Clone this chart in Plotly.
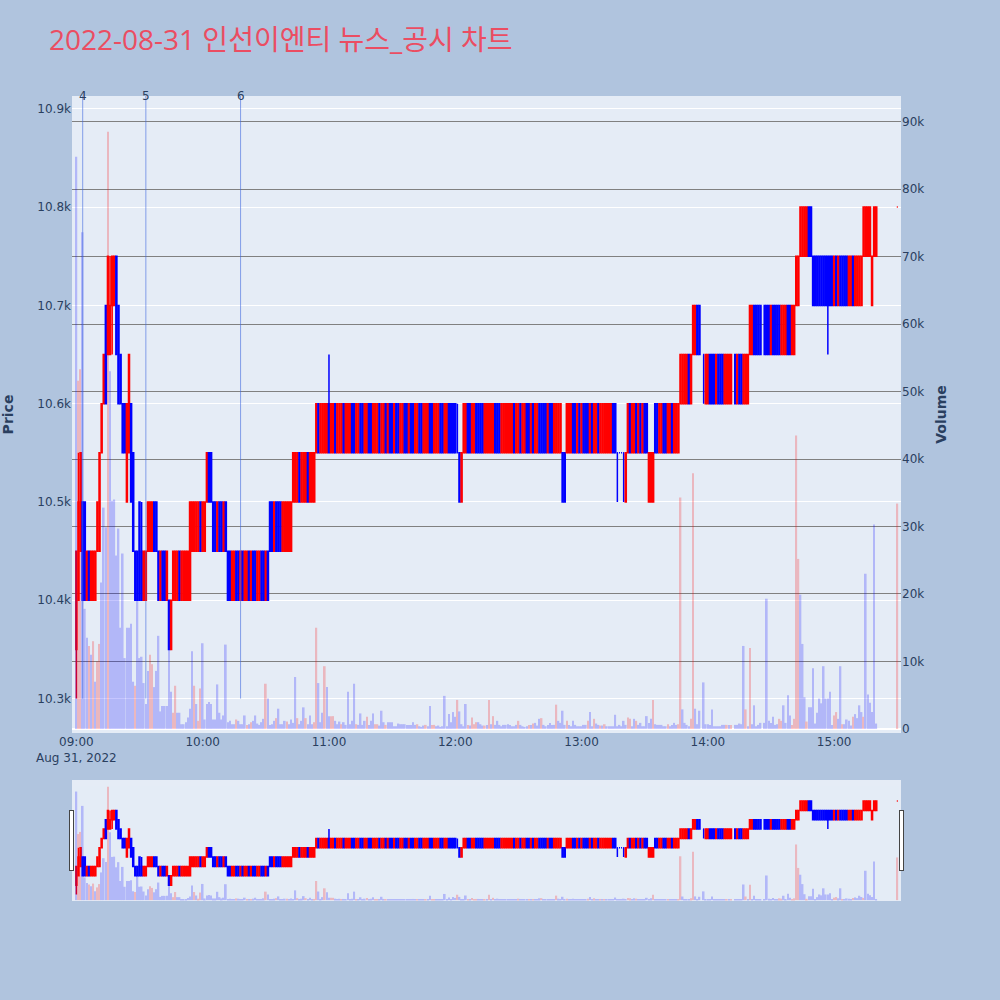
import pandas as pd
import plotly.graph_objects as go
from plotly.subplots import make_subplots

N = None
start_time = "2022-08-31 09:00"
n_minutes = 391

open_ = [
    10350, 10400, 10450, 10500, 10500, 10400, 10450, 10400, 10400, 10400,
    10450, 10450, 10550, 10600, 10700, 10650, 10650, 10700, 10700, 10750,
    10700, 10650, 10600, 10600, 10500, 10550, 10600, 10550, 10450, 10450,
    10500, 10450, 10400, 10400, 10450, 10450, 10450, 10500, 10500, 10450,
    10400, 10450, 10450, 10400, 10400, 10350, 10400, 10400, 10400, 10450,
    10400, 10400, 10400, 10400, 10400, 10450, 10450, 10450, 10450, 10500,
    10450, 10450, 10500, 10550, 10550, 10500, 10500, 10450, 10500, 10500,
    10450, 10500, 10450, 10450, 10400, 10400, 10450, 10450, 10400, 10450,
    10400, 10400, 10450, 10400, 10450, 10450, 10400, 10400, 10450, 10450,
    10400, 10450, 10500, 10500, 10450, 10500, 10500, 10500, 10450, 10450,
    10450, 10450, 10450, 10500, 10500, 10500, 10550, 10500, 10500, 10500,
    10550, 10500, 10500, 10500, 10550, 10600, 10550, 10550, 10550, 10550,
    10600, 10550, 10550, 10600, 10550, 10550, 10550, 10600, 10550, 10550,
    10550, 10600, 10600, 10550, 10550, 10600, 10600, 10550, 10550, 10600,
    10600, 10550, 10550, 10550, 10600, 10550, 10550, 10600, 10550, 10600,
    10600, 10550, 10600, 10600, 10550, 10550, 10600, 10600, 10550, 10600,
    10600, 10550, 10550, 10600, 10600, 10550, 10550, 10550, 10600, 10600,
    10550, 10550, 10550, 10600, 10600, 10550, 10550, 10600, 10600, 10600,
    10600, 10550, 10550, 10500, 10550, 10550, 10600, 10600, 10550, 10550,
    10600, 10600, 10600, 10600, 10550, 10550, 10550, 10550, 10550, 10600,
    10600, 10600, 10550, 10550, 10550, 10550, 10550, 10550, 10600, 10550,
    10550, 10600, 10550, 10550, 10600, 10600, 10550, 10600, 10550, 10550,
    10600, 10600, 10600, 10600, 10550, 10600, 10600, 10550, 10550, 10550,
    10550, 10550, 10550, 10550, 10550, 10550, 10600, 10600, 10550, 10600,
    10550, 10600, 10600, 10600, 10550, 10600, 10550, 10550, 10600, 10550,
    10550, 10550, 10550, 10550, 10550, 10600, 10600, 10550, 10550, 10550,
    10550, 10500, 10550, 10600, 10550, 10550, 10600, 10550, 10600, 10550,
    10600, 10600, 10500, 10500, 10500, 10600, 10600, 10550, 10550, 10600,
    10600, 10550, 10550, 10600, 10550, 10550, 10550, 10600, 10600, 10600,
    10600, 10650, 10600, 10650, 10650, 10700, 10700, N, 10650, 10600,
    10600, 10650, 10650, 10650, 10600, 10650, 10650, 10650, 10600, 10600,
    10600, 10600, N, 10650, 10600, 10650, 10650, 10600, 10600, 10600,
    10650, 10650, 10700, 10700, 10700, 10700, N, 10700, 10700, 10700,
    10650, 10700, 10700, 10700, 10700, 10650, 10650, 10650, 10700, 10700,
    10650, 10650, 10700, 10700, 10750, 10750, 10750, 10750, 10800, 10800,
    10750, 10750, 10750, 10750, 10750, 10750, 10750, 10750, 10750, 10750,
    10700, 10750, 10700, 10750, 10750, 10750, 10750, 10700, 10700, 10750,
    10700, 10700, 10700, 10700, 10750, 10750, 10750, 10750, 10700, 10750,
    10750, N, N, N, N, N, N, N, N, N,
    10800,
]

close_ = [
    10450, 10500, 10550, 10400, 10400, 10450, 10400, 10450, 10450, 10450,
    10500, 10550, 10600, 10650, 10600, 10750, 10700, 10750, 10750, 10650,
    10600, 10600, 10550, 10550, 10600, 10650, 10500, 10450, 10400, 10400,
    10400, 10400, 10450, 10450, 10500, 10500, 10500, 10450, 10450, 10400,
    10450, 10400, 10400, 10450, 10350, 10400, 10450, 10450, 10450, 10400,
    10450, 10450, 10450, 10450, 10500, 10500, 10500, 10500, 10500, 10450,
    10500, 10500, 10550, 10500, 10500, 10450, 10450, 10500, 10450, 10450,
    10500, 10450, 10400, 10400, 10450, 10450, 10400, 10400, 10450, 10400,
    10450, 10450, 10400, 10450, 10400, 10400, 10450, 10450, 10400, 10400,
    10450, 10400, 10450, 10450, 10500, 10450, 10450, 10450, 10500, 10500,
    10500, 10500, 10500, 10550, 10550, 10550, 10500, 10550, 10550, 10550,
    10500, 10550, 10550, 10550, 10600, 10550, 10600, 10600, 10600, 10600,
    10550, 10600, 10600, 10550, 10600, 10600, 10600, 10550, 10600, 10600,
    10600, 10550, 10550, 10600, 10600, 10550, 10550, 10600, 10600, 10550,
    10550, 10600, 10600, 10600, 10550, 10600, 10600, 10550, 10600, 10550,
    10550, 10600, 10550, 10550, 10600, 10600, 10550, 10550, 10600, 10550,
    10550, 10600, 10600, 10550, 10550, 10600, 10600, 10600, 10550, 10550,
    10600, 10600, 10600, 10550, 10550, 10600, 10600, 10550, 10550, 10550,
    10550, 10550, 10500, 10550, 10600, 10600, 10550, 10550, 10600, 10600,
    10550, 10550, 10550, 10550, 10600, 10600, 10600, 10600, 10600, 10550,
    10550, 10550, 10600, 10600, 10600, 10600, 10600, 10600, 10550, 10600,
    10600, 10550, 10600, 10600, 10550, 10550, 10600, 10550, 10600, 10600,
    10550, 10550, 10550, 10550, 10600, 10550, 10550, 10600, 10600, 10600,
    10600, 10500, 10500, 10600, 10600, 10600, 10550, 10550, 10600, 10550,
    10600, 10550, 10550, 10550, 10600, 10550, 10600, 10600, 10550, 10600,
    10600, 10600, 10600, 10600, 10600, 10550, 10550, 10550, 10550, 10550,
    10550, 10550, 10600, 10550, 10600, 10600, 10550, 10600, 10550, 10600,
    10550, 10550, 10550, 10550, 10550, 10550, 10550, 10600, 10600, 10550,
    10550, 10600, 10600, 10550, 10600, 10600, 10600, 10650, 10650, 10650,
    10650, 10600, 10650, 10700, 10700, 10650, 10650, N, 10650, 10650,
    10650, 10600, 10600, 10600, 10650, 10600, 10600, 10600, 10650, 10650,
    10650, 10650, N, 10600, 10650, 10600, 10600, 10650, 10650, 10650,
    10700, 10700, 10650, 10650, 10650, 10650, N, 10650, 10650, 10650,
    10700, 10650, 10650, 10650, 10650, 10700, 10700, 10700, 10650, 10650,
    10700, 10700, 10750, 10750, 10800, 10800, 10800, 10800, 10750, 10750,
    10700, 10700, 10700, 10700, 10700, 10700, 10700, 10700, 10700, 10700,
    10750, 10700, 10750, 10700, 10700, 10700, 10700, 10750, 10750, 10700,
    10750, 10750, 10750, 10750, 10800, 10800, 10800, 10800, 10750, 10800,
    10800, N, N, N, N, N, N, N, N, N,
    10800,
]

high_ = [
    10450, 10550, 10550, 10500, 10500, 10450, 10450, 10450, 10450, 10450,
    10500, 10550, 10600, 10650, 10700, 10750, 10750, 10750, 10750, 10750,
    10700, 10650, 10600, 10600, 10600, 10650, 10600, 10550, 10450, 10450,
    10500, 10500, 10450, 10450, 10500, 10500, 10500, 10500, 10500, 10450,
    10450, 10450, 10450, 10450, 10400, 10400, 10450, 10450, 10450, 10450,
    10450, 10450, 10450, 10450, 10500, 10500, 10500, 10500, 10500, 10500,
    10500, 10500, 10550, 10550, 10550, 10500, 10500, 10500, 10500, 10500,
    10500, 10500, 10450, 10450, 10450, 10450, 10450, 10450, 10450, 10450,
    10450, 10450, 10450, 10450, 10450, 10450, 10450, 10450, 10450, 10450,
    10450, 10450, 10500, 10500, 10500, 10500, 10500, 10500, 10500, 10500,
    10500, 10500, 10500, 10550, 10550, 10550, 10550, 10550, 10550, 10550,
    10550, 10550, 10550, 10550, 10600, 10600, 10600, 10600, 10600, 10600,
    10650, 10600, 10600, 10600, 10600, 10600, 10600, 10600, 10600, 10600,
    10600, 10600, 10600, 10600, 10600, 10600, 10600, 10600, 10600, 10600,
    10600, 10600, 10600, 10600, 10600, 10600, 10600, 10600, 10600, 10600,
    10600, 10600, 10600, 10600, 10600, 10600, 10600, 10600, 10600, 10600,
    10600, 10600, 10600, 10600, 10600, 10600, 10600, 10600, 10600, 10600,
    10600, 10600, 10600, 10600, 10600, 10600, 10600, 10600, 10600, 10600,
    10600, 10600, 10550, 10550, 10600, 10600, 10600, 10600, 10600, 10600,
    10600, 10600, 10600, 10600, 10600, 10600, 10600, 10600, 10600, 10600,
    10600, 10600, 10600, 10600, 10600, 10600, 10600, 10600, 10600, 10600,
    10600, 10600, 10600, 10600, 10600, 10600, 10600, 10600, 10600, 10600,
    10600, 10600, 10600, 10600, 10600, 10600, 10600, 10600, 10600, 10600,
    10600, 10550, 10550, 10600, 10600, 10600, 10600, 10600, 10600, 10600,
    10600, 10600, 10600, 10600, 10600, 10600, 10600, 10600, 10600, 10600,
    10600, 10600, 10600, 10600, 10600, 10600, 10600, 10550, 10550, 10550,
    10550, 10550, 10600, 10600, 10600, 10600, 10600, 10600, 10600, 10600,
    10600, 10600, 10550, 10550, 10550, 10600, 10600, 10600, 10600, 10600,
    10600, 10600, 10600, 10600, 10600, 10600, 10600, 10650, 10650, 10650,
    10650, 10650, 10650, 10700, 10700, 10700, 10700, N, 10650, 10650,
    10650, 10650, 10650, 10650, 10650, 10650, 10650, 10650, 10650, 10650,
    10650, 10650, N, 10650, 10650, 10650, 10650, 10650, 10650, 10650,
    10700, 10700, 10700, 10700, 10700, 10700, N, 10700, 10700, 10700,
    10700, 10700, 10700, 10700, 10700, 10700, 10700, 10700, 10700, 10700,
    10700, 10700, 10750, 10750, 10800, 10800, 10800, 10800, 10800, 10800,
    10750, 10750, 10750, 10750, 10750, 10750, 10750, 10750, 10750, 10750,
    10750, 10750, 10750, 10750, 10750, 10750, 10750, 10750, 10750, 10750,
    10750, 10750, 10750, 10750, 10800, 10800, 10800, 10800, 10750, 10800,
    10800, N, N, N, N, N, N, N, N, N,
    10800,
]

low_ = [
    10300, 10400, 10450, 10400, 10400, 10400, 10400, 10400, 10400, 10400,
    10450, 10450, 10550, 10600, 10600, 10650, 10650, 10650, 10700, 10650,
    10600, 10600, 10550, 10550, 10500, 10550, 10500, 10450, 10400, 10400,
    10400, 10400, 10400, 10400, 10450, 10450, 10450, 10450, 10450, 10400,
    10400, 10400, 10400, 10400, 10350, 10350, 10400, 10400, 10400, 10400,
    10400, 10400, 10400, 10400, 10400, 10450, 10450, 10450, 10450, 10450,
    10450, 10450, 10500, 10500, 10500, 10450, 10450, 10450, 10450, 10450,
    10450, 10450, 10400, 10400, 10400, 10400, 10400, 10400, 10400, 10400,
    10400, 10400, 10400, 10400, 10400, 10400, 10400, 10400, 10400, 10400,
    10400, 10400, 10450, 10450, 10450, 10450, 10450, 10450, 10450, 10450,
    10450, 10450, 10450, 10500, 10500, 10500, 10500, 10500, 10500, 10500,
    10500, 10500, 10500, 10500, 10550, 10550, 10550, 10550, 10550, 10550,
    10550, 10550, 10550, 10550, 10550, 10550, 10550, 10550, 10550, 10550,
    10550, 10550, 10550, 10550, 10550, 10550, 10550, 10550, 10550, 10550,
    10550, 10550, 10550, 10550, 10550, 10550, 10550, 10550, 10550, 10550,
    10550, 10550, 10550, 10550, 10550, 10550, 10550, 10550, 10550, 10550,
    10550, 10550, 10550, 10550, 10550, 10550, 10550, 10550, 10550, 10550,
    10550, 10550, 10550, 10550, 10550, 10550, 10550, 10550, 10550, 10550,
    10550, 10550, 10500, 10500, 10550, 10550, 10550, 10550, 10550, 10550,
    10550, 10550, 10550, 10550, 10550, 10550, 10550, 10550, 10550, 10550,
    10550, 10550, 10550, 10550, 10550, 10550, 10550, 10550, 10550, 10550,
    10550, 10550, 10550, 10550, 10550, 10550, 10550, 10550, 10550, 10550,
    10550, 10550, 10550, 10550, 10550, 10550, 10550, 10550, 10550, 10550,
    10550, 10500, 10500, 10550, 10550, 10550, 10550, 10550, 10550, 10550,
    10550, 10550, 10550, 10550, 10550, 10550, 10550, 10550, 10550, 10550,
    10550, 10550, 10550, 10550, 10550, 10550, 10550, 10500, 10550, 10550,
    10500, 10500, 10550, 10550, 10550, 10550, 10550, 10550, 10550, 10550,
    10550, 10550, 10500, 10500, 10500, 10550, 10550, 10550, 10550, 10550,
    10550, 10550, 10550, 10550, 10550, 10550, 10550, 10600, 10600, 10600,
    10600, 10600, 10600, 10650, 10650, 10650, 10650, N, 10600, 10600,
    10600, 10600, 10600, 10600, 10600, 10600, 10600, 10600, 10600, 10600,
    10600, 10600, N, 10600, 10600, 10600, 10600, 10600, 10600, 10600,
    10650, 10650, 10650, 10650, 10650, 10650, N, 10650, 10650, 10650,
    10650, 10650, 10650, 10650, 10650, 10650, 10650, 10650, 10650, 10650,
    10650, 10650, 10700, 10700, 10750, 10750, 10750, 10750, 10750, 10750,
    10700, 10700, 10700, 10700, 10700, 10700, 10700, 10650, 10700, 10700,
    10700, 10700, 10700, 10700, 10700, 10700, 10700, 10700, 10700, 10700,
    10700, 10700, 10700, 10700, 10750, 10750, 10750, 10750, 10700, 10750,
    10750, N, N, N, N, N, N, N, N, N,
    10800,
]

volume = [
    84800, 51600, 53300, 73600, 17800, 13500, 12300, 11000, 13000, 7000,
    10000, 12600, 21700, 32800, 29900, 88500, 53000, 33800, 34000, 25700,
    29700, 15000, 26000, 10500, 15000, 15000, 15600, 7000, 6400, 19500,
    10500, 10700, 6800, 3700, 8600, 11000, 9600, 6200, 8600, 13800,
    2600, 3400, 3400, 3400, 12300, 5500, 2400, 6400, 2400, 2400,
    700, 700, 1000, 1700, 3000, 11500, 6400, 3700, 1200, 6000,
    12700, 1400, 3700, 4000, 3700, 1400, 1400, 6600, 2400, 1400,
    2000, 12500, 1000, 1200, 700, 700, 1400, 1200, 700, 700,
    2000, 600, 700, 1000, 1200, 2000, 800, 600, 1000, 1500,
    6700, 4500, 600, 700, 1200, 1600, 3000, 700, 700, 1200,
    1100, 700, 1400, 900, 7700, 1600, 700, 1200, 3200, 1600,
    700, 2000, 700, 1000, 15000, 6800, 1000, 2400, 9300, 6200,
    1900, 1900, 1900, 1200, 700, 1100, 700, 1000, 600, 5500,
    700, 1200, 6700, 700, 600, 2300, 600, 1200, 1800, 600,
    1200, 2300, 700, 700, 500, 2700, 1000, 600, 1000, 1000,
    1000, 400, 400, 800, 700, 700, 700, 600, 600, 600,
    1000, 600, 700, 400, 300, 500, 600, 400, 3400, 600,
    600, 400, 500, 300, 400, 4900, 400, 2200, 1000, 2500,
    1800, 4300, 2600, 700, 400, 3700, 600, 500, 1700, 700,
    1000, 1000, 700, 500, 500, 600, 4300, 700, 1900, 600,
    1200, 600, 400, 600, 600, 700, 600, 400, 400, 600,
    1200, 600, 400, 300, 400, 600, 600, 800, 900, 500,
    1500, 1600, 600, 400, 600, 900, 600, 600, 3600, 1200,
    900, 2700, 600, 1200, 600, 400, 1200, 600, 400, 400,
    400, 600, 600, 1200, 2500, 400, 1500, 800, 600, 500,
    500, 700, 400, 400, 400, 400, 2100, 400, 600, 400,
    1200, 600, 1700, 1500, 400, 1500, 1200, 600, 900, 400,
    400, 1900, 900, 1500, 4300, 700, 600, 600, 600, 400,
    400, 700, 400, 600, 900, 600, 700, 34300, 2900, 900,
    600, 400, 1500, 37900, 3000, 700, 2700, N, 6900, 700,
    700, 600, 2900, 400, 400, 400, 400, 600, 600, 600,
    600, 600, N, 600, 600, 800, 700, 12300, 2900, 400,
    12000, 700, 3500, 400, 600, 900, N, 900, 19300, 1200,
    900, 1800, 600, 700, 1500, 1200, 3500, 900, 5000, 2000,
    600, 1500, 43500, 25200, 19900, 12600, 4700, 1100, 3200, 3200,
    9000, 800, 2400, 4500, 3800, 9300, 4500, 4500, 5500, 600,
    2000, 2500, 1500, 9300, 700, 700, 1400, 1200, 500, 1800,
    2200, 1600, 3500, 2500, 1800, 23000, 5100, 3900, 2500, 30300,
    800, N, N, N, N, N, N, N, N, N,
    33400,
]

vol_up = [
    0, 1, 1, 0, 0, 0, 1, 0, 1, 0,
    1, 1, 0, 0, 0, 1, 0, 0, 0, 0,
    0, 0, 0, 0, 0, 0, 0, 0, 1, 0,
    0, 0, 0, 0, 0, 1, 1, 0, 0, 0,
    0, 0, 0, 0, 0, 0, 1, 1, 0, 0,
    0, 0, 0, 0, 0, 0, 1, 0, 1, 1,
    0, 0, 0, 0, 0, 0, 0, 0, 0, 0,
    0, 0, 0, 0, 0, 0, 1, 0, 0, 0,
    0, 1, 0, 1, 0, 0, 0, 0, 0, 0,
    1, 0, 0, 0, 0, 1, 0, 0, 0, 0,
    1, 0, 0, 0, 0, 1, 0, 0, 0, 1,
    0, 0, 0, 1, 1, 0, 0, 0, 1, 0,
    0, 1, 1, 0, 0, 0, 1, 0, 0, 0,
    0, 0, 0, 1, 0, 0, 0, 0, 1, 0,
    0, 0, 1, 1, 0, 0, 0, 1, 0, 0,
    0, 0, 0, 0, 0, 0, 0, 0, 0, 0,
    0, 0, 1, 0, 0, 0, 1, 0, 0, 1,
    1, 0, 0, 0, 0, 0, 0, 0, 0, 0,
    0, 1, 0, 0, 0, 0, 1, 0, 1, 1,
    1, 0, 0, 0, 1, 0, 1, 0, 1, 0,
    0, 0, 0, 0, 0, 0, 0, 0, 0, 0,
    1, 0, 0, 0, 0, 1, 0, 1, 0, 0,
    0, 1, 0, 0, 0, 0, 0, 0, 1, 0,
    0, 0, 0, 1, 0, 0, 0, 0, 0, 0,
    0, 0, 0, 1, 0, 0, 1, 0, 0, 1,
    0, 1, 0, 0, 0, 0, 0, 0, 0, 0,
    0, 0, 1, 1, 0, 0, 1, 0, 0, 0,
    0, 0, 0, 0, 1, 0, 0, 0, 0, 0,
    0, 1, 0, 0, 0, 0, 1, 1, 0, 0,
    0, 0, 1, 1, 0, 0, 0, 0, 0, 0,
    0, 0, 0, 0, 0, 0, 0, 0, 0, 1,
    0, 1, 0, 0, 0, 0, 0, 0, 1, 0,
    1, 0, 0, 0, 0, 0, 0, 0, 0, 0,
    0, 0, 0, 0, 1, 1, 0, 0, 0, 0,
    1, 1, 1, 1, 0, 0, 0, 1, 0, 0,
    0, 0, 0, 0, 0, 0, 0, 0, 0, 0,
    1, 1, 0, 0, 1, 0, 0, 0, 0, 1,
    0, 0, 0, 0, 1, 0, 0, 0, 0, 0,
    0, 0, 0, 0, 0, 0, 0, 0, 0, 0,
    1,
]

event_times = ["2022-08-31 09:03", "2022-08-31 09:33", "2022-08-31 10:18"]
event_labels = ["4", "5", "6"]

price_range = [10265, 10913]
volume_range = [-600, 93800]
x_range = ["2022-08-31 08:57:55", "2022-08-31 15:31:45"]
title_text = "2022-08-31 인선이엔티 뉴스_공시 차트"

times = pd.date_range(start_time, periods=n_minutes, freq="min")

fig = make_subplots(specs=[[{"secondary_y": True}]])

fig.add_trace(
    go.Candlestick(
        x=times, open=open_, high=high_, low=low_, close=close_,
        increasing=dict(line=dict(color="red", width=1.5), fillcolor="red"),
        decreasing=dict(line=dict(color="blue", width=1.5), fillcolor="blue"),
        showlegend=False, name="Price",
    ),
    secondary_y=False,
)

fig.add_trace(
    go.Bar(
        x=times, y=volume,
        marker=dict(color=["red" if u else "blue" for u in vol_up], line=dict(width=0)),
        opacity=0.22, showlegend=False, name="Volume",
    ),
    secondary_y=True,
)

for t, lab in zip(event_times, event_labels):
    fig.add_shape(
        type="line", xref="x", yref="y", x0=t, x1=t,
        y0=10300, y1=price_range[1],
        line=dict(color="royalblue", width=1), opacity=0.6,
    )
    fig.add_annotation(
        x=t, y=1, xref="x", yref="paper", text=lab, showarrow=False,
        font=dict(size=12, color="#2a3f5f"), yanchor="middle",
    )

fig.update_layout(
    width=1000, height=1000,
    paper_bgcolor="#B0C4DE",
    plot_bgcolor="#E5ECF6",
    font=dict(family="DejaVu Sans, Verdana, sans-serif", size=12),
    margin=dict(l=72, r=99, t=96, b=100),
    title=dict(text=title_text, x=0.049, xanchor="left", y=0.96, yanchor="middle",
               font=dict(family="Open Sans, Noto Sans CJK KR, sans-serif", size=28, color="#EB4D62")),
    showlegend=False,
)
fig.update_xaxes(
    domain=[0, 1], range=x_range, showgrid=False,
    rangeslider=dict(visible=True, bgcolor="#E5ECF6", range=x_range),
)
fig.update_yaxes(
    range=price_range, automargin=False,
    title=dict(text="Price", font=dict(size=14, weight="bold"), standoff=20),
    secondary_y=False,
)
fig.update_yaxes(
    range=volume_range, showgrid=True, gridcolor="gray", automargin=False,
    title=dict(text="Volume", font=dict(size=14, weight="bold"), standoff=12),
    secondary_y=True,
)

fig.write_html(
    "out.html",
    config={"displayModeBar": False},
    post_script="document.body.style.margin='0';document.body.style.overflow='hidden';",
)
